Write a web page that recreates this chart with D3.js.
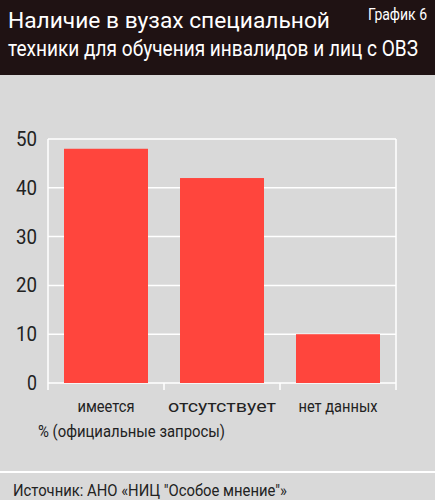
<!DOCTYPE html>
<html><head><meta charset="utf-8">
<script src="https://cdn.jsdelivr.net/npm/d3@7"></script>
<style>body{margin:0;background:#d9d9d9}text{font-family:"Roboto",sans-serif}</style>
</head><body>
<script>
const categories = ['имеется', 'отсутствует', 'нет данных'];
const values = [48, 42, 10];
const yTicks = [0, 10, 20, 30, 40, 50];
const catWidths = [57, 108, 79];

const width = 435, height = 500;
const svg = d3.select('body').append('svg').attr('width', width).attr('height', height);

function squeeze(sel, len) {
  return sel.attr('textLength', len).attr('lengthAdjust', 'spacingAndGlyphs');
}

svg.append('rect').attr('width', width).attr('height', height).attr('fill', '#d9d9d9');
svg.append('rect').attr('width', width).attr('height', 75).attr('fill', '#1f1213');
squeeze(svg.append('text').text('Наличие в вузах специальной').attr('x', 8).attr('y', 28)
  .attr('fill', '#fff').attr('font-size', 22), 322);
squeeze(svg.append('text').text('техники для обучения инвалидов и лиц с ОВЗ').attr('x', 8).attr('y', 56)
  .attr('fill', '#fff').attr('font-size', 22), 410);
squeeze(svg.append('text').text('График 6').attr('x', 368).attr('y', 20)
  .attr('fill', '#fff').attr('font-size', 17), 59);

const x = d3.scaleBand().domain(categories).range([48, 396]).paddingInner(0.276).paddingOuter(0.138);
const y = d3.scaleLinear().domain([0, 50]).range([383, 139]);

// grid
svg.append('g').selectAll('line').data(yTicks).join('line')
  .attr('x1', 48).attr('x2', 396).attr('y1', d => y(d)).attr('y2', d => y(d))
  .attr('stroke', '#fff').attr('stroke-width', 1.5);
svg.append('line').attr('x1', 48).attr('x2', 48).attr('y1', y(50)).attr('y2', y(0) + 7).attr('stroke', '#fff').attr('stroke-width', 1.5);
svg.append('line').attr('x1', 396).attr('x2', 396).attr('y1', y(50)).attr('y2', y(0) + 7).attr('stroke', '#fff').attr('stroke-width', 1.5);
const step = x.step();
svg.append('g').selectAll('line').data(categories.slice(1)).join('line')
  .attr('x1', d => x(d) - step * 0.138).attr('x2', d => x(d) - step * 0.138)
  .attr('y1', y(0)).attr('y2', y(0) + 7).attr('stroke', '#fff').attr('stroke-width', 1.5);

svg.append('g').selectAll('rect').data(values).join('rect')
  .attr('x', (d, i) => x(categories[i])).attr('width', x.bandwidth())
  .attr('y', d => y(d)).attr('height', d => y(0) - y(d)).attr('fill', '#ff453d');

squeeze(svg.append('g').selectAll('text').data(yTicks).join('text')
  .text(d => d).attr('x', 37).attr('y', d => y(d) + 7).attr('text-anchor', 'end')
  .attr('font-size', 20).attr('fill', '#222'), d => d === 0 ? 10 : 21);

squeeze(svg.append('g').selectAll('text').data(categories).join('text')
  .text(d => d).attr('x', d => x(d) + x.bandwidth() / 2).attr('y', 412).attr('text-anchor', 'middle')
  .attr('font-size', 17).attr('fill', '#222'), (d, i) => catWidths[i]);
squeeze(svg.append('text').text('% (официальные запросы)').attr('x', 38).attr('y', 437)
  .attr('font-size', 17).attr('fill', '#222'), 187);

svg.append('line').attr('x1', 0).attr('x2', width).attr('y1', 472).attr('y2', 472).attr('stroke', '#fff').attr('stroke-width', 2);
squeeze(svg.append('text').text('Источник: АНО «НИЦ "Особое мнение"»').attr('x', 13).attr('y', 496)
  .attr('font-size', 17).attr('fill', '#222'), 274);
</script>
</body></html>
